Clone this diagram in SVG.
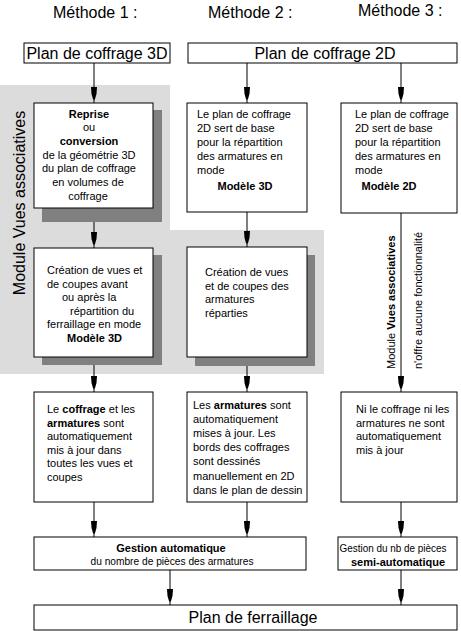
<svg xmlns="http://www.w3.org/2000/svg" width="461" height="631" viewBox="0 0 461 631">
<style>
.box{fill:#fff;stroke:#000;stroke-width:1}
.sh{fill:#808080}
.t{font-family:"Liberation Sans",Arial,sans-serif;font-size:11px;fill:#000}
.b{font-weight:bold}
.h{font-family:"Liberation Sans",Arial,sans-serif;font-size:16px;fill:#000}
.c{text-anchor:middle}
.ln{stroke:#000;stroke-width:1;fill:none;marker-end:url(#ah)}
</style>
<defs>
<marker id="ah" markerUnits="userSpaceOnUse" markerWidth="20" markerHeight="10" viewBox="-20 -5 20 10" refX="0" refY="0" orient="auto">
<path d="M-16,-3 L-9,-2.5 L-4,-1 L-3,0 L-4,1 L-9,2.5 L-16,3 Z" fill="#000"/>
</marker>
</defs>
<rect width="461" height="631" fill="#fff"/>
<polygon points="0,85 170,85 170,230 324,230 324,374 0,374" fill="#dcdcdc"/>
<text class="h" x="0" y="0" transform="translate(25,203) rotate(-90)" text-anchor="middle" font-size="19.5">Module Vues associatives</text>

<g id="headers">
<text class="h" x="53" y="18">Méthode 1 :</text>
<text class="h" x="208" y="18">Méthode 2 :</text>
<text class="h" x="358" y="16">Méthode 3 :</text>
</g>

<g id="connectors">
<line class="ln" x1="94" y1="63" x2="94" y2="103"/>
<line class="ln" x1="247" y1="63" x2="247" y2="103"/>
<line class="ln" x1="401" y1="63" x2="401" y2="103"/>
<line class="ln" x1="94" y1="208" x2="94" y2="248"/>
<line class="ln" x1="247" y1="212" x2="247" y2="247"/>
<line class="ln" x1="401" y1="213" x2="401" y2="392"/>
<line class="ln" x1="94" y1="357" x2="94" y2="392"/>
<line class="ln" x1="247" y1="357" x2="247" y2="392"/>
<line class="ln" x1="94" y1="502" x2="94" y2="537"/>
<line class="ln" x1="247" y1="502" x2="247" y2="537"/>
<line class="ln" x1="401" y1="502" x2="401" y2="537"/>
<line class="ln" x1="170" y1="570" x2="170" y2="605"/>
<line class="ln" x1="401" y1="570" x2="401" y2="605"/>
<text class="t" font-size="12" transform="translate(395,369) rotate(-90)">Module <tspan class="b">Vues associatives</tspan></text>
<text class="t" font-size="12" transform="translate(422,369) rotate(-90)">n'offre aucune fonctionnalité</text>
</g>

<g id="plan3d">
<rect class="box" x="24" y="43" width="146" height="20"/>
<text class="h c" x="97" y="59">Plan de coffrage 3D</text>
</g>
<g id="plan2d">
<rect class="box" x="188" y="43" width="269" height="20"/>
<text class="h c" x="325" y="59">Plan de coffrage 2D</text>
</g>

<g id="m1-reprise">
<rect class="sh" x="42" y="110" width="120" height="112"/>
<rect class="box" x="34" y="103" width="119" height="105"/>
<text class="t c b" x="89" y="117.5">Reprise</text>
<text class="t c" x="89" y="131.2">ou</text>
<text class="t c b" x="89" y="144.9">conversion</text>
<text class="t c" x="89" y="158.6">de la géométrie 3D</text>
<text class="t c" x="89" y="172.3">du plan de coffrage</text>
<text class="t c" x="88" y="186">en volumes de</text>
<text class="t c" x="88" y="199.7">coffrage</text>
</g>

<g id="m2-base">
<rect class="box" x="187" y="103" width="120" height="109"/>
<text class="t" x="197" y="118">Le plan de coffrage</text>
<text class="t" x="197" y="132">2D sert de base</text>
<text class="t" x="197" y="146">pour la répartition</text>
<text class="t" x="197" y="160">des armatures en</text>
<text class="t" x="197" y="174">mode</text>
<text class="t c b" x="245" y="190">Modèle 3D</text>
</g>

<g id="m3-base">
<rect class="box" x="341" y="103" width="116" height="110"/>
<text class="t" x="355" y="118">Le plan de coffrage</text>
<text class="t" x="355" y="132">2D sert de base</text>
<text class="t" x="355" y="146">pour la répartition</text>
<text class="t" x="355" y="160">des armatures en</text>
<text class="t" x="355" y="174">mode</text>
<text class="t c b" x="389" y="190">Modèle 2D</text>
</g>

<g id="m1-vues">
<rect class="sh" x="42" y="255" width="120" height="110"/>
<rect class="box" x="34" y="248" width="119" height="109"/>
<text class="t" x="47" y="274">Création de vues et</text>
<text class="t" x="47" y="287.6">de coupes avant</text>
<text class="t" x="62" y="301.2">ou après la</text>
<text class="t" x="70" y="314.8">répartition du</text>
<text class="t" x="47" y="328.4">ferraillage en mode</text>
<text class="t b" x="67" y="342">Modèle 3D</text>
</g>

<g id="m2-vues">
<rect class="sh" x="195" y="255" width="120" height="111"/>
<rect class="box" x="187" y="247" width="120" height="110"/>
<text class="t" x="205" y="276">Création de vues</text>
<text class="t" x="205" y="289.6">et de coupes des</text>
<text class="t" x="205" y="303.2">armatures</text>
<text class="t" x="205" y="316.8">réparties</text>
</g>

<g id="m1-maj">
<rect class="box" x="34" y="392" width="119" height="110"/>
<text class="t" x="47" y="413">Le <tspan class="b">coffrage</tspan> et les</text>
<text class="t" x="47" y="426.6"><tspan class="b">armatures</tspan> sont</text>
<text class="t" x="47" y="440.2">automatiquement</text>
<text class="t" x="47" y="453.8">mis à jour dans</text>
<text class="t" x="47" y="467.4">toutes les vues et</text>
<text class="t" x="47" y="481">coupes</text>
</g>

<g id="m2-maj">
<rect class="box" x="187" y="392" width="120" height="110"/>
<text class="t" x="193" y="409">Les <tspan class="b">armatures</tspan> sont</text>
<text class="t" x="193" y="423.1">automatiquement</text>
<text class="t" x="193" y="437.2">mises à jour. Les</text>
<text class="t" x="193" y="451.3">bords des coffrages</text>
<text class="t" x="193" y="465.4">sont dessinés</text>
<text class="t" x="193" y="479.5">manuellement en 2D</text>
<text class="t" x="193" y="493.6">dans le plan de dessin</text>
</g>

<g id="m3-maj">
<rect class="box" x="341" y="392" width="116" height="110"/>
<text class="t" x="356" y="413">Ni le coffrage ni les</text>
<text class="t" x="356" y="426.5">armatures ne sont</text>
<text class="t" x="356" y="440">automatiquement</text>
<text class="t" x="356" y="453.5">mis à jour</text>
</g>

<g id="gestion-auto">
<rect class="box" x="34" y="537" width="272" height="33"/>
<text class="t c b" x="171" y="552">Gestion automatique</text>
<text class="t c" x="172" y="565" textLength="163" lengthAdjust="spacingAndGlyphs">du nombre de pièces des armatures</text>
</g>

<g id="gestion-semi">
<rect class="box" x="338" y="537" width="119" height="33"/>
<text class="t c" x="393" y="552" textLength="107" lengthAdjust="spacingAndGlyphs">Gestion du nb de pièces</text>
<text class="t c b" x="398" y="566">semi-automatique</text>
</g>

<g id="ferraillage">
<rect class="box" x="34" y="605" width="423" height="25"/>
<text class="h c" x="253" y="623">Plan de ferraillage</text>
</g>
</svg>
